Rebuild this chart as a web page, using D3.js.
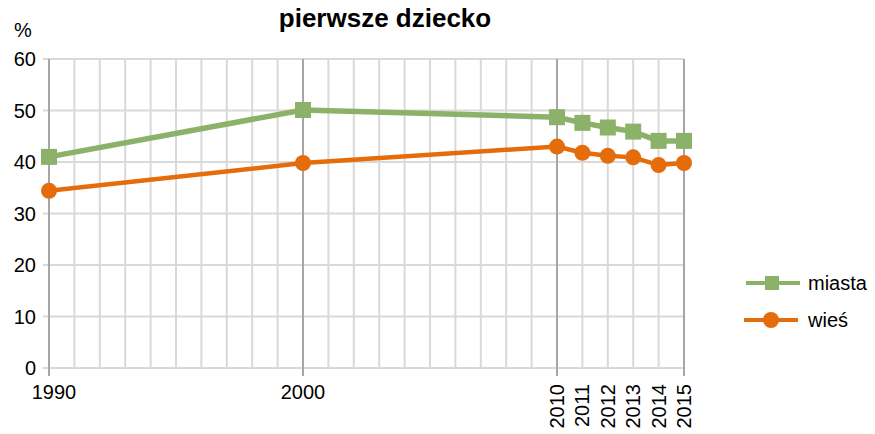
<!DOCTYPE html>
<html>
<head>
<meta charset="utf-8">
<style>
body { margin: 0; background: #fff; }
text { font-family: "Liberation Sans", Arial, sans-serif; fill: #000; }
.grid-minor { stroke: #d9d9d9; stroke-width: 2; }
.grid-major { stroke: #a6a6a6; stroke-width: 2; }
</style>
</head>
<body>
<script src="https://cdn.jsdelivr.net/npm/d3@7"></script>
<script>
var years = [1990, 2000, 2010, 2011, 2012, 2013, 2014, 2015];
var miasta = [41.0, 50.1, 48.7, 47.6, 46.7, 45.9, 44.1, 44.1];
var wies = [34.4, 39.8, 43.0, 41.8, 41.2, 40.9, 39.4, 39.8];
var yTicks = [0, 10, 20, 30, 40, 50, 60];
var labeledYears = [1990, 2000, 2010, 2011, 2012, 2013, 2014, 2015];

var width = 875, height = 434;

var svg = d3.select("body").append("svg")
	.attr("width", width)
	.attr("height", height);

var x = d3.scaleLinear().domain([1990, 2015]).range([49, 684]);
var y = d3.scaleLinear().domain([0, 60]).range([368, 59]);

// horizontal gridlines (with small tick on left)
svg.append("g").selectAll("line")
	.data(yTicks)
	.enter().append("line")
	.attr("class", "grid-minor")
	.attr("x1", 43).attr("x2", x(2015))
	.attr("y1", function(d) { return y(d); })
	.attr("y2", function(d) { return y(d); });

// vertical gridlines, one per year
var major = [1990, 2000, 2010, 2015];
svg.append("g").selectAll("line")
	.data(d3.range(1990, 2016))
	.enter().append("line")
	.attr("class", function(d) { return major.indexOf(d) >= 0 ? "grid-major" : "grid-minor"; })
	.attr("x1", function(d) { return x(d); })
	.attr("x2", function(d) { return x(d); })
	.attr("y1", y(60))
	.attr("y2", function(d) { return major.indexOf(d) >= 0 ? 376 : y(0); });

// y labels
svg.append("g").selectAll("text")
	.data(yTicks)
	.enter().append("text")
	.attr("x", 36)
	.attr("y", function(d) { return y(d) + 7; })
	.attr("text-anchor", "end")
	.style("font-size", "20px")
	.text(function(d) { return d; });

svg.append("text").attr("x", 14).attr("y", 37).style("font-size", "20px").text("%");

// x labels (first one nudged right, like the original)
svg.append("g").selectAll("text")
	.data(labeledYears.filter(function(d) { return d < 2010; }))
	.enter().append("text")
	.attr("x", function(d, i) { return x(d) + (i === 0 ? 5 : 0); })
	.attr("y", 399)
	.attr("text-anchor", "middle")
	.style("font-size", "20px")
	.text(function(d) { return d; });

svg.append("g").selectAll("text")
	.data(labeledYears.filter(function(d) { return d >= 2010; }))
	.enter().append("text")
	.attr("transform", function(d) { return "translate(" + (x(d) + 7) + ",384) rotate(-90)"; })
	.attr("text-anchor", "end")
	.style("font-size", "20px")
	.text(function(d) { return d; });

// title
svg.append("text")
	.attr("x", 385).attr("y", 27)
	.attr("text-anchor", "middle")
	.style("font-size", "26px")
	.style("font-weight", "bold")
	.text("pierwsze dziecko");

var line = d3.line()
	.x(function(d, i) { return x(years[i]); })
	.y(function(d) { return y(d); });

var green = "#8cb26a", orange = "#e46c0a";

svg.append("path").datum(wies)
	.attr("fill", "none").attr("stroke", orange).attr("stroke-width", 4.5)
	.attr("d", line);
svg.append("g").selectAll("circle")
	.data(wies)
	.enter().append("circle")
	.attr("cx", function(d, i) { return x(years[i]); })
	.attr("cy", function(d) { return y(d); })
	.attr("r", 8)
	.attr("fill", orange);

svg.append("path").datum(miasta)
	.attr("fill", "none").attr("stroke", green).attr("stroke-width", 5.5)
	.attr("d", line);
svg.append("g").selectAll("rect")
	.data(miasta)
	.enter().append("rect")
	.attr("x", function(d, i) { return x(years[i]) - 8; })
	.attr("y", function(d) { return y(d) - 8; })
	.attr("width", 16).attr("height", 16)
	.attr("fill", green);

// legend
var legend = svg.append("g");
legend.append("line").attr("x1", 746).attr("x2", 800).attr("y1", 283).attr("y2", 283)
	.attr("stroke", green).attr("stroke-width", 4);
legend.append("rect").attr("x", 765).attr("y", 276).attr("width", 14).attr("height", 14).attr("fill", green);
legend.append("text").attr("x", 808).attr("y", 290).style("font-size", "20px").text("miasta");
legend.append("line").attr("x1", 744).attr("x2", 798).attr("y1", 320).attr("y2", 320)
	.attr("stroke", orange).attr("stroke-width", 4);
legend.append("circle").attr("cx", 771).attr("cy", 320).attr("r", 8).attr("fill", orange);
legend.append("text").attr("x", 808).attr("y", 327).style("font-size", "20px").text("wieś");
</script>
</body>
</html>
